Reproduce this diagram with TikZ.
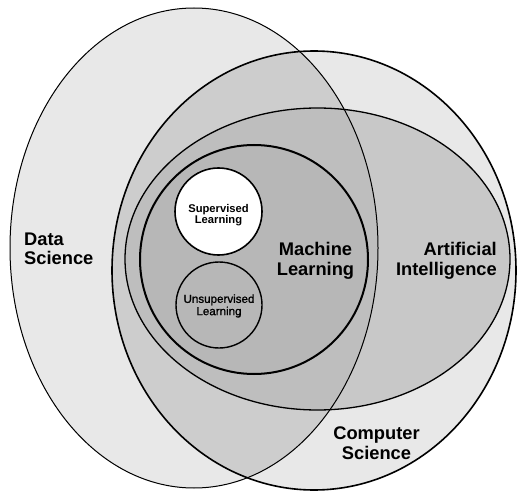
\documentclass[tikz,border=0pt]{standalone}
\usepackage{fontspec}
\setmainfont{Liberation Sans}
\newfontfamily\medfont[FakeBold=1.2]{Liberation Sans}
\definecolor{lightA}{HTML}{E8E8E8}
\definecolor{midA}{HTML}{CDCDCD}
\definecolor{aiOut}{HTML}{C8C8C8}
\definecolor{aiIn}{HTML}{BEBEBE}
\definecolor{mlFill}{HTML}{B7B7B7}
\begin{document}
\begin{tikzpicture}[x=1pt,y=-1pt,
  biglabel/.style={font=\bfseries\fontsize{18.3}{19.5}\selectfont, align=center, inner sep=0pt},
  smalllabel/.style={font=\bfseries\fontsize{11.2}{11.5}\selectfont, align=center, inner sep=0pt},
  smallreg/.style={font=\medfont\fontsize{11.6}{12.3}\selectfont, align=center, inner sep=0pt}]
\useasboundingbox (0,0) rectangle (517,492);
\def\dsshape{(194,248) ellipse [x radius=184pt, y radius=240pt]}
\def\csshape{(314,270.5) ellipse [x radius=202pt, y radius=219.5pt]}
\def\aishape{(317.5,259) ellipse [x radius=192.5pt, y radius=151pt]}
\def\mlshape{(254,259.5) ellipse [x radius=114pt, y radius=114.5pt]}
\def\supshape{(218.5,211.5) circle [radius=43.5pt]}
\def\unsupshape{(219,305) circle [radius=43pt]}
% fills
\fill[lightA] \dsshape;
\fill[lightA] \csshape;
\begin{scope}
  \clip \dsshape;
  \fill[midA] \csshape;
\end{scope}
\fill[aiOut] \aishape;
\begin{scope}
  \clip \dsshape;
  \fill[aiIn] \aishape;
\end{scope}
\fill[mlFill] \mlshape;
\fill[white] \supshape;
\fill[mlFill] \unsupshape;
% outlines
\draw[line width=1pt] \dsshape;
\draw[line width=1.6pt] \csshape;
\draw[line width=1.3pt] \aishape;
\draw[line width=2pt] \mlshape;
\draw[line width=1.6pt] \supshape;
\draw[line width=1.4pt] \unsupshape;
% labels
\node[biglabel, align=left, anchor=west] (ds) at (24,249) {Data\\Science};
\node[biglabel] (ml) at (315.5,261) {Machine\\Learning};
\node[biglabel, align=right, anchor=east] (ai) at (497,261) {Artificial\\Intelligence};
\node[biglabel] (cs) at (376.5,443) {Computer\\Science};
\node[smalllabel] (sl) at (218.5,215) {Supervised\\Learning};
\node[smallreg] (ul) at (219,306) {Unsupervised\\Learning};
\end{tikzpicture}
\end{document}
